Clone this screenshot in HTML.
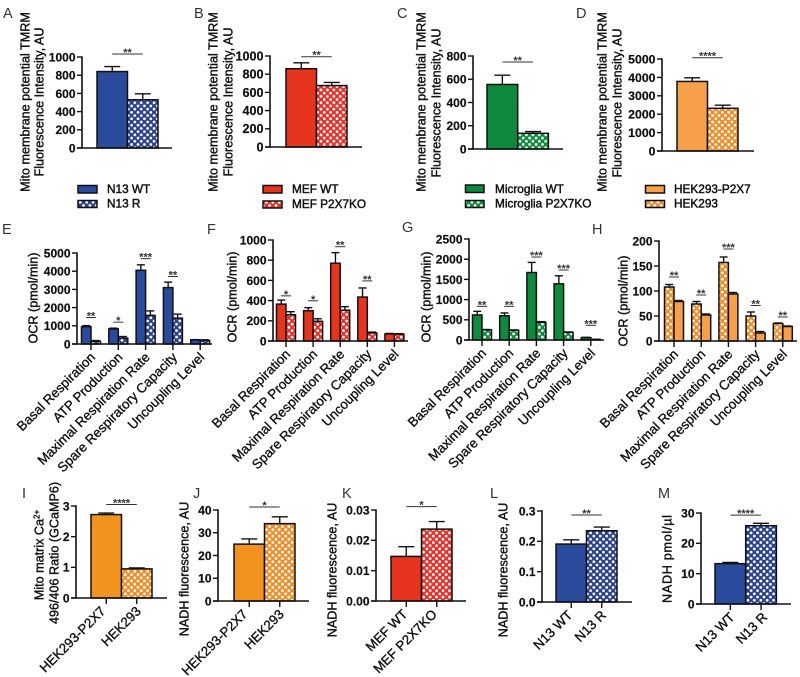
<!DOCTYPE html>
<html lang="en">
<head>
<meta charset="utf-8">
<title>Mitochondrial bioenergetics panels</title>
<style>
html,body{margin:0;padding:0;background:#fff;}
svg{display:block;font-family:"Liberation Sans",Arial,sans-serif;}
.pl{font-size:14.5px;fill:#333;}
.yt{font-size:12.6px;fill:#111;stroke:#111;stroke-width:.4;text-anchor:middle;}
.lg{font-size:11.8px;fill:#111;stroke:#111;stroke-width:.45;}
.tick{font-size:12px;font-weight:bold;fill:#111;stroke:#111;stroke-width:.2;text-anchor:end;}
.cat{font-size:13.3px;fill:#111;stroke:#111;stroke-width:.35;text-anchor:end;}
.star{font-size:11px;font-weight:bold;fill:#333;text-anchor:middle;}
.sw{stroke:#111;stroke-width:1.5;}
</style>
</head>
<body>
<svg id="figure" xmlns="http://www.w3.org/2000/svg" width="800" height="677" viewBox="0 0 800 677">
<defs>
<pattern id="pat-blue" width="6" height="6" patternUnits="userSpaceOnUse" patternTransform="scale(1.07)"><rect width="6" height="6" fill="#2a4088"/><circle cx="3" cy="3" r="1.3" fill="#fff"/><circle cx="0" cy="0" r="1.3" fill="#fff"/><circle cx="6" cy="0" r="1.3" fill="#fff"/><circle cx="0" cy="6" r="1.3" fill="#fff"/><circle cx="6" cy="6" r="1.3" fill="#fff"/></pattern>
<pattern id="pat-red" width="6" height="6" patternUnits="userSpaceOnUse" patternTransform="scale(1.07)"><rect width="6" height="6" fill="#e2312a"/><circle cx="3" cy="3" r="1.3" fill="#fff"/><circle cx="0" cy="0" r="1.3" fill="#fff"/><circle cx="6" cy="0" r="1.3" fill="#fff"/><circle cx="0" cy="6" r="1.3" fill="#fff"/><circle cx="6" cy="6" r="1.3" fill="#fff"/></pattern>
<pattern id="pat-green" width="6" height="6" patternUnits="userSpaceOnUse" patternTransform="scale(1.07)"><rect width="6" height="6" fill="#0e8a3e"/><circle cx="3" cy="3" r="1.3" fill="#fff"/><circle cx="0" cy="0" r="1.3" fill="#fff"/><circle cx="6" cy="0" r="1.3" fill="#fff"/><circle cx="0" cy="6" r="1.3" fill="#fff"/><circle cx="6" cy="6" r="1.3" fill="#fff"/></pattern>
<pattern id="pat-orange" width="6" height="6" patternUnits="userSpaceOnUse" patternTransform="scale(1.07)"><rect width="6" height="6" fill="#ec8d2a"/><circle cx="3" cy="3" r="1.3" fill="#fff"/><circle cx="0" cy="0" r="1.3" fill="#fff"/><circle cx="6" cy="0" r="1.3" fill="#fff"/><circle cx="0" cy="6" r="1.3" fill="#fff"/><circle cx="6" cy="6" r="1.3" fill="#fff"/></pattern>
</defs>

<g>
<text class="pl" x="3" y="18">A</text>
<text class="pl" x="194" y="18">B</text>
<text class="pl" x="397" y="18">C</text>
<text class="pl" x="576" y="18">D</text>
<text class="pl" x="2" y="234">E</text>
<text class="pl" x="207" y="234">F</text>
<text class="pl" x="402" y="232">G</text>
<text class="pl" x="592" y="234">H</text>
<text class="pl" x="22" y="498">I</text>
<text class="pl" x="193" y="498">J</text>
<text class="pl" x="342" y="498">K</text>
<text class="pl" x="490" y="498">L</text>
<text class="pl" x="658" y="498">M</text>
</g>

<g>
<text class="yt" transform="translate(29.5,102) rotate(-90)">Mito membrane potential TMRM</text>
<text class="yt" transform="translate(43.5,102) rotate(-90)">Fluorescence Intensity, AU</text>
<text class="yt" transform="translate(217.5,102) rotate(-90)">Mito membrane potential TMRM</text>
<text class="yt" transform="translate(232.5,102) rotate(-90)">Fluorescence Intensity, AU</text>
<text class="yt" transform="translate(425.5,102) rotate(-90)">Mito membrane potential TMRM</text>
<text class="yt" transform="translate(440.5,103) rotate(-90)">Fluorescence Intensity, AU</text>
<text class="yt" transform="translate(606.5,102) rotate(-90)">Mito membrane potential TMRM</text>
<text class="yt" transform="translate(621.5,103) rotate(-90)">Fluorescence Intensity, AU</text>
<text class="yt" transform="translate(37.5,298) rotate(-90)">OCR (pmol/min)</text>
<text class="yt" transform="translate(236.5,297) rotate(-90)">OCR (pmol/min)</text>
<text class="yt" transform="translate(430.5,297) rotate(-90)">OCR (pmol/min)</text>
<text class="yt" transform="translate(627.5,301) rotate(-90)">OCR (pmol/min)</text>
<text class="yt" transform="translate(43.5,555) rotate(-90)">Mito matrix Ca<tspan font-size="8" dy="-4">2+</tspan></text>
<text class="yt" transform="translate(58.5,553) rotate(-90)">496/406 Ratio (GCaMP6)</text>
<text class="yt" transform="translate(188.5,569) rotate(-90)">NADH fluorescence, AU</text>
<text class="yt" transform="translate(336.5,570) rotate(-90)">NADH fluorescence, AU</text>
<text class="yt" transform="translate(507.5,570) rotate(-90)">NADH fluorescence, AU</text>
<text class="yt" transform="translate(671.5,559) rotate(-90)" textLength="88" lengthAdjust="spacing">NADH pmol/µl</text>
</g>

<g>
<rect class="sw" x="78" y="185.5" width="19" height="7.5" fill="#2a4b9b"/>
<text class="lg" x="107" y="193">N13 WT</text>
<rect class="sw" x="78" y="200.5" width="19" height="7" fill="url(#pat-blue)"/>
<text class="lg" x="107" y="207.5">N13 R</text>
</g>
<g>
<rect class="sw" x="263" y="185.5" width="19" height="7.5" fill="#e7341f"/>
<text class="lg" x="292" y="193">MEF WT</text>
<rect class="sw" x="263" y="201" width="19" height="7" fill="url(#pat-red)"/>
<text class="lg" x="292" y="208">MEF P2X7KO</text>
</g>
<g>
<rect class="sw" x="465.5" y="185" width="18.5" height="7.5" fill="#0e8a3e"/>
<text class="lg" x="495" y="193">Microglia WT</text>
<rect class="sw" x="465.5" y="200.5" width="18.5" height="7" fill="url(#pat-green)"/>
<text class="lg" x="495" y="207.5">Microglia P2X7KO</text>
</g>
<g>
<rect class="sw" x="645.5" y="185.5" width="19" height="7.5" fill="#f6a04b"/>
<text class="lg" x="674" y="193">HEK293-P2X7</text>
<rect class="sw" x="645.5" y="200.5" width="19" height="7" fill="url(#pat-orange)"/>
<text class="lg" x="674" y="207.5">HEK293</text>
</g>
</svg>

<script>
/* ---------- chart data ---------- */
const aTicks = [0, 200, 400, 600, 800, 1000];
const aValues = [840, 530];
const aErrors = [55, 65];
const aSig = [1033];
const aStars = ['**'];

const bTicks = [0, 200, 400, 600, 800, 1000];
const bValues = [860, 675];
const bErrors = [65, 35];
const bSig = [992];
const bStars = ['**'];

const cTicks = [0, 200, 400, 600, 800];
const cValues = [555, 135];
const cErrors = [80, 15];
const cSig = [748];
const cStars = ['**'];

const dTicks = [0, 1000, 2000, 3000, 4000, 5000];
const dValues = [3780, 2320];
const dErrors = [200, 170];
const dSig = [5070];
const dStars = ['****'];

const ocrCategories = ['Basal Respiration', 'ATP Production', 'Maximal Respiration Rate', 'Spare Respiratory Capacity', 'Uncoupling Level'];

const eTicks = [0, 1000, 2000, 3000, 4000, 5000];
const eFirst = [950, 830, 4050, 3100, 230];
const eFirstErr = [60, 40, 300, 300, 10];
const eSecond = [150, 320, 1570, 1420, 190];
const eSecondErr = [40, 90, 250, 220, 40];
const eSig = [1455, 1200, 4690, 3709];
const eStars = ['**', '*', '***', '**'];

const fTicks = [0, 200, 400, 600, 800, 1000];
const fFirst = [365, 300, 770, 435, 70];
const fFirstErr = [40, 30, 105, 90, 5];
const fSecond = [260, 195, 305, 80, 68];
const fSecondErr = [30, 25, 35, 8, 5];
const fSig = [447, 398, 934, 595];
const fStars = ['*', '*', '**', '**'];

const gTicks = [0, 500, 1000, 1500, 2000, 2500];
const gFirst = [620, 600, 1670, 1390, 60];
const gFirstErr = [90, 70, 250, 200, 5];
const gSecond = [250, 240, 440, 190, 15];
const gSecondErr = [10, 10, 15, 10, 3];
const gSig = [833, 833, 2054, 1733, 363];
const gStars = ['**', '**', '***', '***', '***'];

const hTicks = [0, 50, 100, 150, 200];
const hFirst = [108, 74, 157, 50, 35];
const hFirstErr = [5, 5, 11, 8, 1];
const hSecond = [79, 52, 94, 16, 29];
const hSecondErr = [2, 2, 3, 3, 1];
const hSig = [128, 92, 184, 71, 48];
const hStars = ['**', '**', '***', '**', '**'];

const hekCategories = ['HEK293-P2X7', 'HEK293'];
const mefCategories = ['MEF WT', 'MEF P2X7KO'];
const n13Categories = ['N13 WT', 'N13 R'];

const iTicks = [0, 1, 2, 3];
const iValues = [2.72, 0.95];
const iErrors = [0.05, 0.03];
const iSig = [3.05];
const iStars = ['****'];

const jTicks = [0, 10, 20, 30, 40];
const jValues = [25, 34];
const jErrors = [2.3, 3];
const jSig = [41.3];
const jStars = ['*'];

const kTickLabels = ['0.00', '0.01', '0.02', '0.03'];
const kTicks = [0, 0.01, 0.02, 0.03];
const kValues = [0.0147, 0.0237];
const kErrors = [0.0032, 0.0025];
const kSig = [0.0311];
const kStars = ['*'];

const lTickLabels = ['0.0', '0.1', '0.2', '0.3'];
const lTicks = [0, 0.1, 0.2, 0.3];
const lValues = [0.191, 0.235];
const lErrors = [0.014, 0.012];
const lSig = [0.287];
const lStars = ['**'];

const mTicks = [0, 10, 20, 30];
const mValues = [13.3, 25.8];
const mErrors = [0.4, 0.8];
const mSig = [29.3];
const mStars = ['****'];

/* ---------- drawing ---------- */
const NS = 'http://www.w3.org/2000/svg';
const figure = document.getElementById('figure');
const INK = '#111';

function makeEl(parent, tag, props) {
  const el = document.createElementNS(NS, tag);
  Object.keys(props).forEach(function (k) { el.setAttribute(k, props[k]); });
  parent.appendChild(el);
  return el;
}

function drawLine(parent, x1, y1, x2, y2, width, name, colour) {
  const el = makeEl(parent, 'line', { x1: x1, y1: y1, x2: x2, y2: y2, stroke: colour || INK, 'stroke-width': width });
  
  
  return el;
}

function drawBar(parent, x, yTop, w, yBase, fill, name) {
  const el = makeEl(parent, 'rect', { x: x, y: yTop, width: w, height: Math.max(0, yBase - yTop), fill: fill, stroke: INK, 'stroke-width': 1.5 });
  
  
  return el;
}

function drawError(parent, cx, yTop, yEnd, capHalf, name) {
  const g = makeEl(parent, 'g', {});
  
  
  makeEl(g, 'line', { x1: cx, y1: yTop, x2: cx, y2: yEnd, stroke: INK, 'stroke-width': 1.4 });
  makeEl(g, 'line', { x1: cx - capHalf, y1: yEnd, x2: cx + capHalf, y2: yEnd, stroke: INK, 'stroke-width': 1.4 });
}

function drawAxes(parent, p, ticks, labels, yScale) {
  const maxTick = ticks[ticks.length - 1];
  drawLine(parent, p.axisX, yScale(maxTick) - 0.7, p.axisX, p.bottom + 0.7, 1.6, 'y-axis-line');
  drawLine(parent, p.axisX - 5, p.bottom, p.xEnd, p.bottom, 1.6, 'x-axis-line');
  ticks.forEach(function (t, i) {
    const y = yScale(t);
    drawLine(parent, p.axisX - 5, y, p.axisX, y, 1.4, 'y-tick');
    const txt = makeEl(parent, 'text', { class: 'tick', x: p.axisX - 6.5, y: y + 4.4 });
    
    
    if (p.tickSize) txt.style.fontSize = p.tickSize + 'px';
    txt.textContent = labels ? labels[i] : String(t);
  });
}

function drawSig(parent, x1, x2, y, mark) {
  drawLine(parent, x1, y, x2, y, 1, 'significance-line', '#333');
  const s = makeEl(parent, 'text', { class: 'star', x: (x1 + x2) / 2, y: y + 2 });
  
  
  s.textContent = mark;
}

function drawCatLabel(parent, x, y, label) {
  const t = makeEl(parent, 'text', { class: 'cat', transform: 'translate(' + x + ',' + y + ') rotate(-45)' });
  
  
  t.textContent = label;
}

function drawTwoBar(p) {
  const g = makeEl(figure, 'g', {});
  
  
  const maxTick = p.ticks[p.ticks.length - 1];
  const yScale = function (v) { return p.bottom - (v / maxTick) * (p.bottom - p.top); };
  const centre = function (i) { return p.x0 + (i + 0.5) * p.barW; };
  p.values.forEach(function (v, i) {
    drawError(g, centre(i), yScale(v), yScale(v + p.errors[i]), 8, 'error-bar');
    drawBar(g, p.x0 + i * p.barW, yScale(v), p.barW, p.bottom, p.fills[i], 'bar-' + i);
    if (p.cats) {
      drawLine(g, centre(i), p.bottom, centre(i), p.bottom + 6, 1.4, 'x-tick');
      drawCatLabel(g, centre(i) + p.catDx[i], p.bottom + 14, p.cats[i]);
    }
  });
  drawAxes(g, p, p.ticks, p.tickLabels, yScale);
  drawSig(g, centre(0), centre(1), yScale(p.sig[0]), p.stars[0]);
}

function drawGrouped(p) {
  const g = makeEl(figure, 'g', {});
  
  
  const maxTick = p.ticks[p.ticks.length - 1];
  const yScale = function (v) { return p.bottom - (v / maxTick) * (p.bottom - p.top); };
  p.cats.forEach(function (label, i) {
    const c = p.c0 + i * p.step;
    drawError(g, c - p.barW / 2, yScale(p.first[i]), yScale(p.first[i] + p.firstErr[i]), 4, 'error-bar-first');
    drawError(g, c + p.barW / 2, yScale(p.second[i]), yScale(p.second[i] + p.secondErr[i]), 4, 'error-bar-second');
    drawBar(g, c - p.barW, yScale(p.first[i]), p.barW, p.bottom, p.fills[0], 'bar-first-' + i);
    drawBar(g, c, yScale(p.second[i]), p.barW, p.bottom, p.fills[1], 'bar-second-' + i);
    drawLine(g, c, p.bottom, c, p.bottom + 6, 1.4, 'x-tick');
    drawCatLabel(g, c + 5, p.bottom + 14, label);
    if (i < p.sig.length) drawSig(g, c - 5, c + 5, yScale(p.sig[i]), p.stars[i]);
  });
  drawAxes(g, p, p.ticks, null, yScale);
}

const BLUE = '#2a4b9b', RED = '#e7341f', GREEN = '#0e8a3e', ORANGE_D = '#f6a04b', ORANGE = '#f29320';

drawTwoBar({ name: 'chart-a', axisX: 82, top: 57, bottom: 148, xEnd: 172, x0: 97, barW: 30.5, ticks: aTicks, values: aValues, errors: aErrors, sig: aSig, stars: aStars, fills: [BLUE, 'url(#pat-blue)'] });
drawTwoBar({ name: 'chart-b', axisX: 270, top: 56, bottom: 147, xEnd: 362, x0: 286, barW: 30.5, tickSize: 12.6, ticks: bTicks, values: bValues, errors: bErrors, sig: bSig, stars: bStars, fills: [RED, 'url(#pat-red)'] });
drawTwoBar({ name: 'chart-c', axisX: 473, top: 56, bottom: 149, xEnd: 563, x0: 487, barW: 30.7, ticks: cTicks, values: cValues, errors: cErrors, sig: cSig, stars: cStars, fills: [GREEN, 'url(#pat-green)'] });
drawTwoBar({ name: 'chart-d', axisX: 662, top: 59, bottom: 151, xEnd: 754, x0: 677, barW: 30.5, tickSize: 12.3, ticks: dTicks, values: dValues, errors: dErrors, sig: dSig, stars: dStars, fills: [ORANGE_D, 'url(#pat-orange)'] });

drawGrouped({ name: 'chart-e', axisX: 77, top: 253, bottom: 344, xEnd: 212, c0: 91, step: 27.3, barW: 9.5, ticks: eTicks, cats: ocrCategories, first: eFirst, firstErr: eFirstErr, second: eSecond, secondErr: eSecondErr, sig: eSig, stars: eStars, fills: [BLUE, 'url(#pat-blue)'] });
drawGrouped({ name: 'chart-f', axisX: 273, top: 240, bottom: 341, xEnd: 408, c0: 286, step: 27.1, barW: 9.5, ticks: fTicks, cats: ocrCategories, first: fFirst, firstErr: fFirstErr, second: fSecond, secondErr: fSecondErr, sig: fSig, stars: fStars, fills: [RED, 'url(#pat-red)'] });
drawGrouped({ name: 'chart-g', axisX: 469, top: 239, bottom: 340, xEnd: 604, c0: 482, step: 27.2, barW: 9.5, ticks: gTicks, cats: ocrCategories, first: gFirst, firstErr: gFirstErr, second: gSecond, secondErr: gSecondErr, sig: gSig, stars: gStars, fills: [GREEN, 'url(#pat-green)'] });
drawGrouped({ name: 'chart-h', axisX: 659, top: 241, bottom: 341, xEnd: 797, c0: 674, step: 27.2, barW: 9.5, ticks: hTicks, cats: ocrCategories, first: hFirst, firstErr: hFirstErr, second: hSecond, secondErr: hSecondErr, sig: hSig, stars: hStars, fills: ['url(#pat-orange)', ORANGE_D] });

drawTwoBar({ name: 'chart-i', axisX: 76, top: 506, bottom: 598, xEnd: 167, x0: 91, barW: 30.5, ticks: iTicks, values: iValues, errors: iErrors, sig: iSig, stars: iStars, fills: [ORANGE, 'url(#pat-orange)'], cats: hekCategories, catDx: [0, 5] });
drawTwoBar({ name: 'chart-j', axisX: 218, top: 510, bottom: 601, xEnd: 309, x0: 234, barW: 30.5, ticks: jTicks, values: jValues, errors: jErrors, sig: jSig, stars: jStars, fills: [ORANGE, 'url(#pat-orange)'], cats: hekCategories, catDx: [-1, 5] });
drawTwoBar({ name: 'chart-k', axisX: 376, top: 510, bottom: 601, xEnd: 466, x0: 391, barW: 30.5, tickLabels: kTickLabels, ticks: kTicks, values: kValues, errors: kErrors, sig: kSig, stars: kStars, fills: [RED, 'url(#pat-red)'], cats: mefCategories, catDx: [2, 1] });
drawTwoBar({ name: 'chart-l', axisX: 542, top: 511, bottom: 602, xEnd: 632, x0: 556, barW: 30.5, tickLabels: lTickLabels, ticks: lTicks, values: lValues, errors: lErrors, sig: lSig, stars: lStars, fills: [BLUE, 'url(#pat-blue)'], cats: n13Categories, catDx: [2, 5] });
drawTwoBar({ name: 'chart-m', axisX: 701, top: 513, bottom: 604, xEnd: 791, x0: 715, barW: 30.7, ticks: mTicks, values: mValues, errors: mErrors, sig: mSig, stars: mStars, fills: [BLUE, 'url(#pat-blue)'], cats: n13Categories, catDx: [5, 7] });
</script>
</body>
</html>
